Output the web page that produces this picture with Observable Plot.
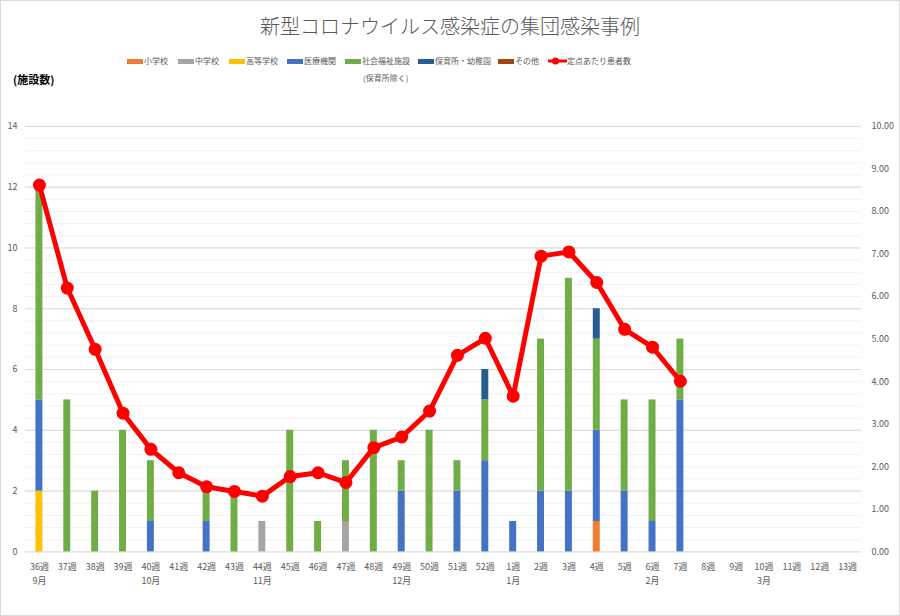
<!DOCTYPE html>
<html><head><meta charset="utf-8">
<script src="https://cdn.jsdelivr.net/npm/d3@7"></script>
<script src="https://cdn.jsdelivr.net/npm/@observablehq/plot@0.6"></script>
<style>
html,body{margin:0;padding:0;background:#fff;}
#wrap{position:relative;width:898px;height:614px;border:1px solid #d9d9d9;font-family:"Noto Sans CJK JP","Noto Sans",sans-serif;overflow:hidden;background:#fff;}
#title{position:absolute;top:11px;left:0;width:100%;text-align:center;font-size:20px;line-height:28px;color:#595959;font-weight:300;}
#chart{position:absolute;top:0;left:-1px;}
.lg{position:absolute;top:53px;font-size:8px;line-height:14px;color:#595959;white-space:nowrap;display:flex;align-items:center;}
.sw{display:inline-block;width:16px;height:5px;margin-right:1px;}
#sub{position:absolute;top:70px;left:362px;font-size:8px;line-height:14px;color:#595959;}
#unit{position:absolute;top:70px;left:12px;font-size:11px;line-height:16px;font-weight:bold;color:#000;}
</style>
</head><body>
<div id="wrap">
  <div id="title"></div>
  <div id="legend"></div>
  <div id="sub">(保育所除く)</div>
  <div id="unit">(施設数)</div>
  <div id="chart"></div>
</div>
<script>
const titleText = "新型コロナウイルス感染症の集団感染事例";
const weeks = ["36週","37週","38週","39週","40週","41週","42週","43週","44週","45週","46週","47週","48週","49週","50週","51週","52週","1週","2週","3週","4週","5週","6週","7週","8週","9週","10週","11週","12週","13週"];
const monthWeeks = ["36週","40週","44週","49週","1週","6週","10週"];
const monthLabels = ["9月","10月","11月","12月","1月","2月","3月"];
const categories = ["小学校","中学校","高等学校","医療機関","社会福祉施設","保育所・幼稚園","その他"];
const colors = ["#ED7D31","#A5A5A5","#FFC000","#4472C4","#70AD47","#255E91","#9E480E"];
const elementary = [0,0,0,0,0,0,0,0,0,0,0,0,0,0,0,0,0,0,0,0,1,0,0,0,0,0,0,0,0,0];
const juniorHigh = [0,0,0,0,0,0,0,0,1,0,0,1,0,0,0,0,0,0,0,0,0,0,0,0,0,0,0,0,0,0];
const highSchool = [2,0,0,0,0,0,0,0,0,0,0,0,0,0,0,0,0,0,0,0,0,0,0,0,0,0,0,0,0,0];
const medical    = [3,0,0,0,1,0,1,0,0,0,0,0,0,2,0,2,3,1,2,2,3,2,1,5,0,0,0,0,0,0];
const welfare    = [7,5,2,4,2,0,1,2,0,4,1,2,4,1,4,1,2,0,5,7,3,3,4,2,0,0,0,0,0,0];
const nursery    = [0,0,0,0,0,0,0,0,0,0,0,0,0,0,0,0,1,0,0,0,1,0,0,0,0,0,0,0,0,0];
const other      = [0,0,0,0,0,0,0,0,0,0,0,0,0,0,0,0,0,0,0,0,0,0,0,0,0,0,0,0,0,0];
const patients = [8.62,6.20,4.76,3.26,2.41,1.86,1.53,1.42,1.31,1.77,1.86,1.63,2.45,2.70,3.31,4.62,5.02,3.66,6.95,7.05,6.33,5.23,4.81,4.01,null,null,null,null,null,null];
const lineLabel = "定点あたり患者数";
const leftTicks = [0,2,4,6,8,10,12,14];
const rightTicks = [0,1,2,3,4,5,6,7,8,9,10];
const leftMax = 14, rightMax = 10;
const ratio = leftMax / rightMax;

document.getElementById("title").textContent = titleText;

// legend
const lgLefts = [126,177,228,286,344,417,497,547];
const legend = document.getElementById("legend");
categories.forEach((c,i)=>{
  const d = document.createElement("div");
  d.className = "lg"; d.style.left = lgLefts[i] + "px";
  d.innerHTML = `<span class="sw" style="background:${colors[i]}"></span><span>${c}</span>`;
  legend.appendChild(d);
});
{
  const d = document.createElement("div");
  d.className = "lg"; d.style.left = lgLefts[7] + "px";
  d.innerHTML = `<svg width="19" height="14" style="margin-right:0px"><line x1="0" y1="7" x2="19" y2="7" stroke="#FF0000" stroke-width="3"/><circle cx="7.5" cy="7" r="3.5" fill="#FF0000"/></svg><span>${lineLabel}</span>`;
  legend.appendChild(d);
}

const seriesList = [elementary, juniorHigh, highSchool, medical, welfare, nursery, other];
const barData = [];
seriesList.forEach((arr, si) => arr.forEach((v, wi) => barData.push({week: weeks[wi], cat: categories[si], value: v})));
const lineData = weeks.map((w,i)=>({week:w, v:patients[i]})).filter(d=>d.v != null);
const monthData = monthWeeks.map((w,i)=>({week:w, label:monthLabels[i]}));

const minorTicks = d3.range(0, leftMax + 0.001, 0.4);

const plot = Plot.plot({
  width: 900, height: 616,
  marginTop: 125, marginBottom: 65, marginLeft: 25, marginRight: 38,
  style: {fontFamily: '"Noto Sans CJK JP","Noto Sans",sans-serif', fontSize: "9px", color: "#595959", background: "transparent"},
  x: {domain: weeks, paddingInner: 0.75, paddingOuter: 0.375, round: false, label: null},
  y: {domain: [0, leftMax], label: null},
  color: {domain: categories, range: colors},
  marks: [
    Plot.ruleY(minorTicks, {stroke: "#f2f2f2", strokeWidth: 1}),
    Plot.ruleY(leftTicks, {stroke: "#d9d9d9", strokeWidth: 1}),
    Plot.barY(barData, {x: "week", y: "value", fill: "cat"}),
    Plot.line(lineData, {x: "week", y: d => d.v * ratio, stroke: "#FF0000", strokeWidth: 5, strokeLinejoin: "round"}),
    Plot.dot(lineData, {x: "week", y: d => d.v * ratio, r: 6.5, fill: "#FF0000", stroke: "none"}),
    Plot.axisY(leftTicks, {anchor: "left", tickSize: 0, tickPadding: 8, label: null, fill: "#595959"}),
    Plot.axisY(rightTicks.map(v => v * ratio), {anchor: "right", tickSize: 0, tickPadding: 10, label: null, fill: "#595959", tickFormat: d => (d / ratio).toFixed(2)}),
    Plot.axisX({tickSize: 0, tickPadding: 12, label: null, fill: "#595959"}),
    Plot.text(monthData, {x: "week", text: "label", frameAnchor: "bottom", dy: 32, fill: "#595959"})
  ]
});
document.getElementById("chart").appendChild(plot);
</script>
</body></html>
